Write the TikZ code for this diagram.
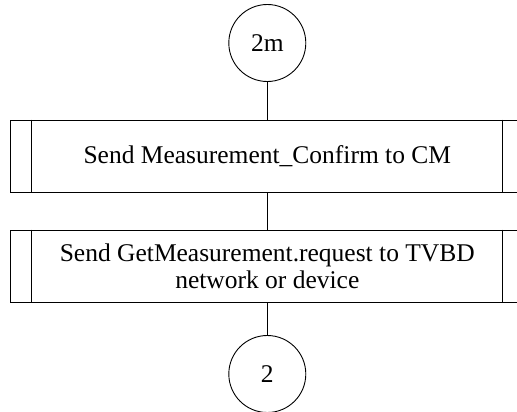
\documentclass[tikz,border=0pt]{standalone}
\usepackage{fontspec}
\setmainfont{Liberation Serif}
\begin{document}
\begin{tikzpicture}[x=1pt,y=-1pt,
  every node/.style={font=\fontsize{25.5}{27}\selectfont},
  conn/.style={circle,draw,line width=0.9pt,minimum size=77pt,inner sep=0pt},
  procbox/.style={rectangle,draw,line width=0.9pt,minimum width=513.3pt,minimum height=72pt,
    inner sep=0pt,align=center},
  link/.style={draw,line width=0.9pt}]
\clip (0,0) rectangle (517,412);
\useasboundingbox (0,0) rectangle (517,412);
\node[conn] (c1) at (267.3,43) {2m};
\node[procbox] (b1) at (267.3,156) {Send Measurement\_Confirm to CM};
\node[procbox] (b2) at (267.3,266) {Send GetMeasurement.request to TVBD\\network or device};
\node[conn] (c2) at (267.3,374) {2};
% predefined-process side bars
\foreach \b in {b1,b2}{
  \draw[line width=0.9pt] ([xshift=21.6pt]\b.north west) -- ([xshift=21.6pt]\b.south west);
  \draw[line width=0.9pt] ([xshift=-21.6pt]\b.north east) -- ([xshift=-21.6pt]\b.south east);
}
\path[link] (c1) -- (b1);
\path[link] (b1) -- (b2);
\path[link] (b2) -- (c2);
\end{tikzpicture}
\end{document}
